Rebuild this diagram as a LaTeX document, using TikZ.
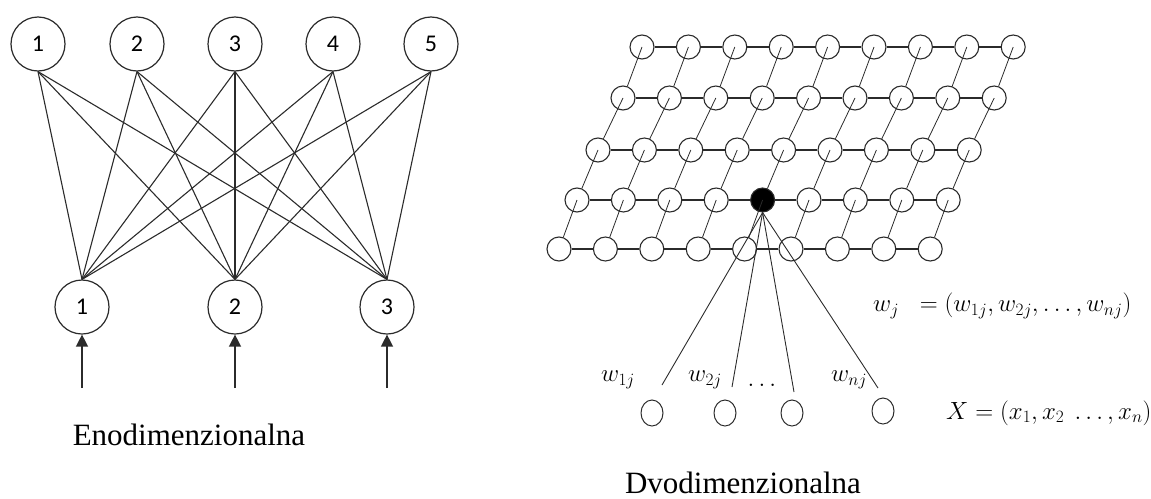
\documentclass[tikz,border=0pt]{standalone}
\usepackage{fontspec}
\setmainfont{Liberation Serif}
\newfontfamily\numfont{Carlito}
\usepackage{tikz}
\usetikzlibrary{arrows.meta,positioning,shapes.geometric}
\definecolor{ink}{HTML}{2B2B2B}

\begin{document}
\begin{tikzpicture}[x=1pt,y=-1pt,
  n/.style={circle,draw=ink,line width=1.2pt,minimum size=54pt,inner sep=0pt,font=\numfont\fontsize{24}{28}\selectfont},
  g/.style={circle,draw=ink,line width=1.1pt,minimum size=24pt,inner sep=0pt},
  bk/.style={g,fill=black},
  inp/.style={ellipse,draw=ink,line width=1pt,minimum width=22pt,minimum height=26pt,inner sep=0pt},
  ed/.style={line width=1.1pt,ink},
  hl/.style={line width=1.3pt,ink},
  dl/.style={line width=0.8pt,ink},
  wl/.style={line width=0.9pt,ink},
  ar/.style={-{Triangle[length=12pt,width=12pt]},line width=1.4pt,ink},
  lbl/.style={font=\fontsize{31}{36}\selectfont},
  fm/.style={font=\fontsize{25}{30}\selectfont,inner sep=0pt}]
\useasboundingbox (0,0) rectangle (1151,498);
% one-dimensional map
\node[n] (t1) at (38,44) {1};
\node[n] (t2) at (137,44) {2};
\node[n] (t3) at (235,44) {3};
\node[n] (t4) at (333,44) {4};
\node[n] (t5) at (431,44) {5};
\node[n] (b1) at (82,307) {1};
\node[n] (b2) at (235,307) {2};
\node[n] (b3) at (387,307) {3};
\foreach \t in {1,...,5}
  \foreach \b in {1,2,3}
    \draw[ed] (t\t.south) -- (b\b.north);
\coordinate (i1) at (82,388);
\coordinate (i2) at (235,388);
\coordinate (i3) at (387,388);
\draw[ar] (i1) -- (b1); \draw[ar] (i2) -- (b2); \draw[ar] (i3) -- (b3);
\node[lbl] (eno) at (189,435) {Enodimenzionalna};
% two-dimensional map
\foreach \r/\xo/\yo in {0/642/47,1/623/98,2/598/150,3/577/200,4/559/249}
  \foreach \c in {0,...,8}{
    \ifnum\c\r=43 \def\st{bk}\else\def\st{g}\fi
    \node[\st] (g-\c-\r) at ({\xo+46.4*\c},\yo) {};
  }
\foreach \r in {0,...,4}
  \foreach \c [count=\nc] in {0,...,7}
    \draw[hl] (g-\c-\r) -- (g-\nc-\r);
\foreach \r [count=\rn] in {0,...,3}
  \foreach \c in {0,...,8}
    \draw[dl] (g-\c-\r.center) -- (g-\c-\rn);
\node[inp] (x1) at (652,413) {};
\node[inp] (x2) at (725,413) {};
\node[inp] (x3) at (792,413) {};
\node[inp] (x4) at (883,411) {};
\coordinate (e1) at (662,385);
\coordinate (e2) at (732,387);
\coordinate (e3) at (794,392);
\coordinate (e4) at (878,388);
\foreach \e in {1,...,4}
  \draw[wl] (g-4-3.south) -- (e\e);
\node[fm] (w1) at (618,380) {$w_{1j}$};
\node[fm] (w2) at (705,380) {$w_{2j}$};
\node[fm] (wd) at (762,385) {$\ldots$};
\node[fm] (wn) at (849,380) {$w_{nj}$};
\node[fm,anchor=west] (wv) at (873,306) {$w_j\;\; = (w_{1j}, w_{2j}, \ldots, w_{nj})$};
\node[fm,anchor=west,font=\fontsize{24}{28}\selectfont] (xv) at (946,413) {$X = (x_1, x_2\ \ldots, x_n)$};
\node[lbl] (dvo) at (743,483) {Dvodimenzionalna};
\end{tikzpicture}
\end{document}
